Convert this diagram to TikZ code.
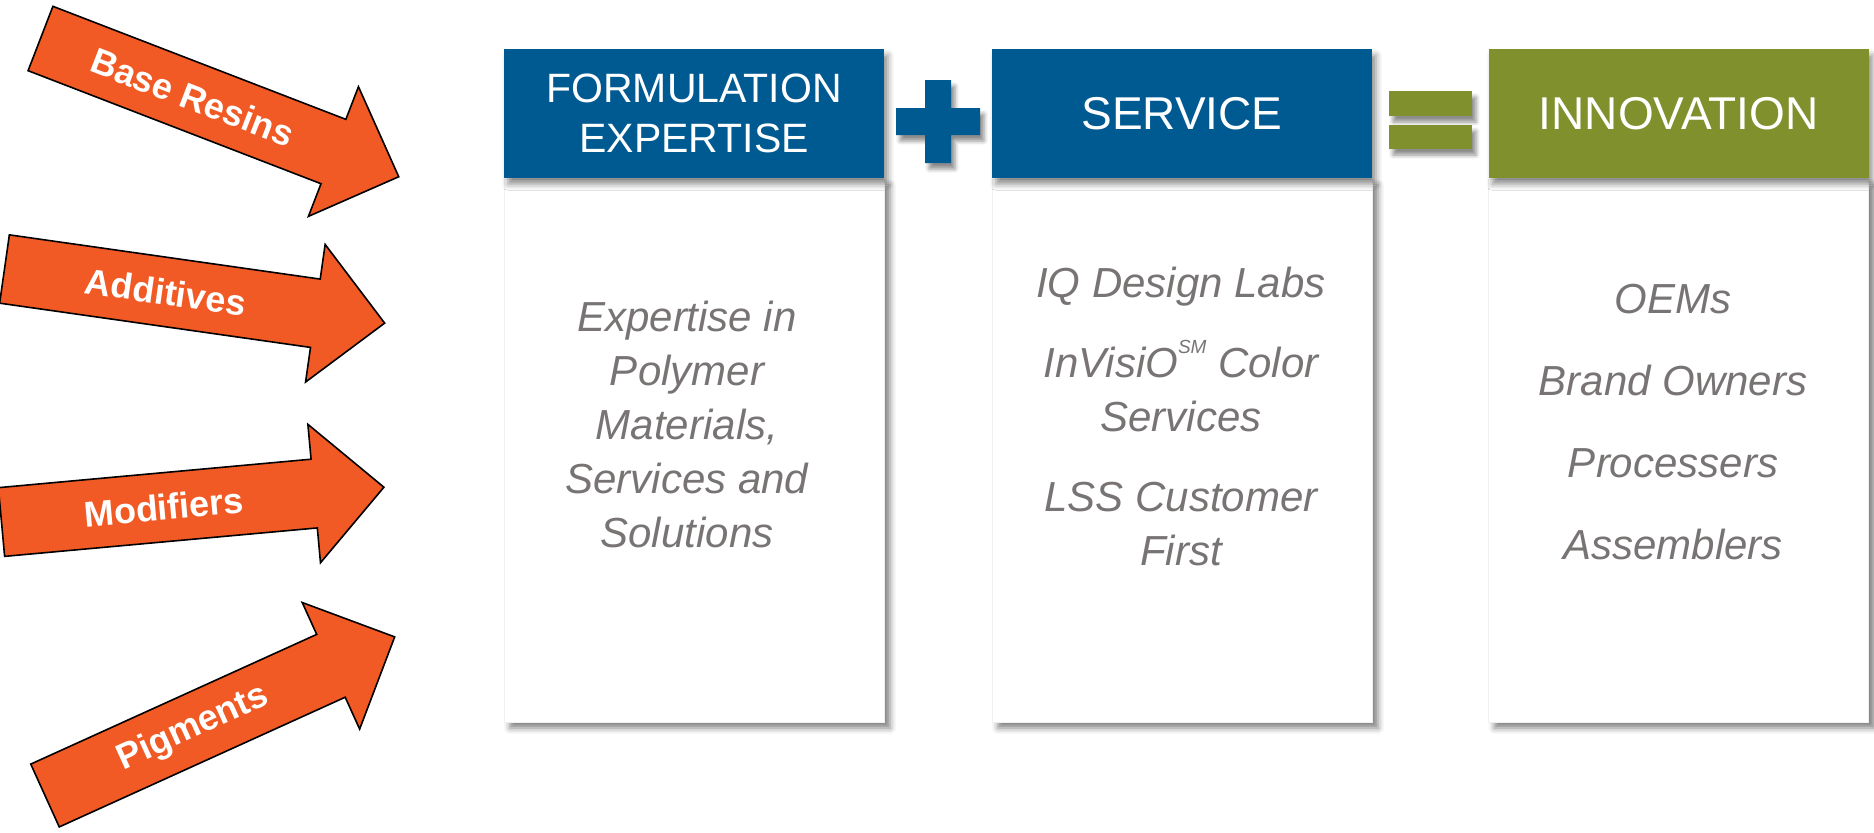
\documentclass[tikz,border=0pt]{standalone}
\usepackage{fontspec}
\setmainfont{Liberation Sans}
\usetikzlibrary{positioning,shadows.blur}
\definecolor{hblue}{RGB}{0,90,146}
\definecolor{hgreen}{RGB}{128,144,44}
\definecolor{arrorange}{RGB}{241,90,36}
\definecolor{txtgray}{RGB}{120,116,116}
\begin{document}
\begin{tikzpicture}[x=0.5pt,y=-0.5pt,
  inarrow/.style={fill=arrorange,draw=black,line width=0.8pt,line join=miter},
  inlabel/.style={text=white,font=\fontsize{18}{20}\selectfont\bfseries,inner sep=0pt},
  head/.style={minimum width=190pt,minimum height=64.5pt,inner sep=0pt,text=white,align=center,
    blur shadow={shadow xshift=2pt,shadow yshift=-3pt,shadow blur radius=3pt,shadow opacity=45}},
  bodybox/.style={fill=white,draw=black!6,minimum width=190pt,minimum height=271.5pt,inner sep=0pt,
    blur shadow={shadow xshift=3pt,shadow yshift=-3pt,shadow blur radius=3pt,shadow opacity=50}},
  bodytext/.style={text=txtgray,align=center,font=\fontsize{21}{27}\selectfont\itshape},
  sign/.style={blur shadow={shadow xshift=2pt,shadow yshift=-3pt,shadow blur radius=2pt,shadow opacity=45}}]
  \useasboundingbox (0,0) rectangle (1874,832);
  \foreach \tx/\ty/\ang/\lbl/\nm in {40.5/38.5/-21.1/Base Resins/base,4.5/269/-8.1/Additives/add,
    1.5/522/5.2/Modifiers/mod,45/795.5/24.4/Pigments/pig}
  {
    \begin{scope}[shift={(\tx,\ty)},rotate=\ang]
      \draw[inarrow] (0,-34.5) -- (314,-34.5) -- (314,-69.5) -- (384,0) -- (314,69.5) -- (314,34.5) -- (0,34.5) -- cycle;
      \node[inlabel,rotate=\ang] (\nm) at (163,0) {\lbl};
    \end{scope}
  }
  \node[bodybox] (formbody) at (694,450.5) {};
  \node[bodybox] (servbody) at (1182,450.5) {};
  \node[bodybox] (innovbody) at (1678.5,450.5) {};
  \node[head,fill=hblue,above=0pt of formbody,font=\fontsize{20.5}{25}\selectfont] (form) {FORMULATION\\EXPERTISE};
  \node[head,fill=hblue,above=0pt of servbody,font=\fontsize{23}{27}\selectfont] (serv) {SERVICE};
  \node[head,fill=hgreen,above=0pt of innovbody,font=\fontsize{23}{27}\selectfont] (innov) {INNOVATION};
  \fill[hblue,sign] (896,108) -- (925,108) -- (925,80) -- (951,80) -- (951,108) -- (980,108) -- (980,135)
    -- (951,135) -- (951,163) -- (925,163) -- (925,135) -- (896,135) -- cycle;
  \fill[hgreen,sign] (1389,91) rectangle (1472,116);
  \fill[hgreen,sign] (1389,125) rectangle (1472,149);
  \node[bodytext] (formtxt) at (687,424.5) {Expertise in\\Polymer\\Materials,\\Services and\\Solutions};
  \node[bodytext] (servtxt) at (1181,416) {IQ Design Labs\\[13pt]InVisiO\raisebox{1.05ex}{\fontsize{9.5}{10}\selectfont SM} Color\\Services\\[13pt]LSS Customer\\First};
  \node[bodytext] (innovtxt) at (1673,422) {OEMs\\[14pt]Brand Owners\\[14pt]Processers\\[14pt]Assemblers};
\end{tikzpicture}
\end{document}
